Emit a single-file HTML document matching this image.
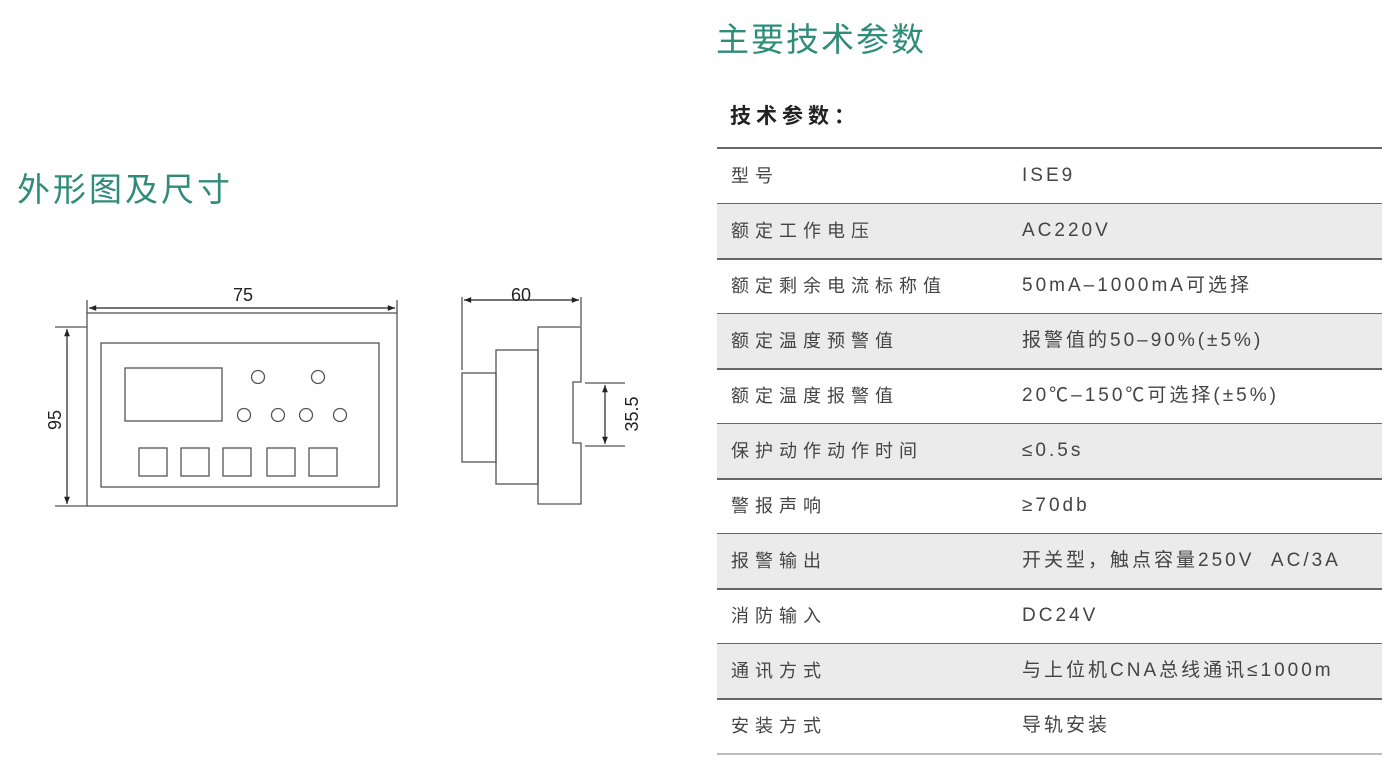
<!DOCTYPE html>
<html><head><meta charset="utf-8"><style>
body{margin:0;width:1400px;height:770px;background:#fff;position:relative;overflow:hidden;font-family:"Liberation Sans","Noto Sans CJK SC",sans-serif;color:#333}
.t{position:absolute;color:#2f8c78;font-size:33px;letter-spacing:2px;white-space:nowrap}
.row{position:absolute;left:717px;width:665px;height:54px;border-bottom:2px solid #666}
.row.g{background:#ebebeb}
.row span{position:absolute;top:15px;height:24px;line-height:24px;font-size:18px;white-space:nowrap;color:#444}
.l{left:14px;letter-spacing:6px}
.v{left:305px;letter-spacing:3px;font-size:19px!important}
</style></head><body>
<div class="t" style="left:716px;top:13px">主要技术参数</div>
<div style="position:absolute;left:730px;top:100px;font-size:21px;font-weight:bold;letter-spacing:5px;color:#222">技术参数：</div>
<div class="t" style="left:17px;top:163px;letter-spacing:3px">外形图及尺寸</div>
<div style="position:absolute;left:717px;top:147px;width:665px;border-top:2px solid #666"></div>
<div class="row" style="top:149px"><span class="l">型号</span><span class="v">ISE9</span></div>
<div class="row g" style="top:204px"><span class="l">额定工作电压</span><span class="v">AC220V</span></div>
<div class="row" style="top:259px"><span class="l">额定剩余电流标称值</span><span class="v">50mA–1000mA可选择</span></div>
<div class="row g" style="top:314px"><span class="l">额定温度预警值</span><span class="v">报警值的50–90%(±5%)</span></div>
<div class="row" style="top:369px"><span class="l">额定温度报警值</span><span class="v">20℃–150℃可选择(±5%)</span></div>
<div class="row g" style="top:424px"><span class="l">保护动作动作时间</span><span class="v">≤0.5s</span></div>
<div class="row" style="top:479px"><span class="l">警报声响</span><span class="v">≥70db</span></div>
<div class="row g" style="top:534px"><span class="l">报警输出</span><span class="v">开关型，触点容量250V&nbsp;&nbsp;AC/3A</span></div>
<div class="row" style="top:589px"><span class="l">消防输入</span><span class="v">DC24V</span></div>
<div class="row g" style="top:644px"><span class="l">通讯方式</span><span class="v">与上位机CNA总线通讯≤1000m</span></div>
<div class="row" style="top:699px;border-bottom-color:#bbb"><span class="l">安装方式</span><span class="v">导轨安装</span></div>
<svg width="700" height="600" style="position:absolute;left:0;top:0" font-family="Liberation Sans,sans-serif">
<defs><marker id="a" viewBox="0 0 10 10" refX="10" refY="5" markerWidth="8" markerHeight="6" orient="auto-start-reverse"><path d="M0,1 L10,5 L0,9z" fill="#222"/></marker></defs>
<g fill="none" stroke="#555" stroke-width="1.3">
<rect x="87" y="313" width="310" height="193"/>
<rect x="101" y="343" width="278" height="144"/>
<rect x="125" y="368" width="97" height="53"/>
<circle cx="258" cy="377" r="6.5"/><circle cx="318" cy="377" r="6.5"/>
<circle cx="244" cy="415" r="6.5"/><circle cx="278" cy="415" r="6.5"/><circle cx="306" cy="415" r="6.5"/><circle cx="340" cy="415" r="6.5"/>
<rect x="139" y="448" width="28" height="28"/><rect x="181" y="448" width="28" height="28"/><rect x="223" y="448" width="28" height="28"/><rect x="267" y="448" width="28" height="28"/><rect x="309" y="448" width="28" height="28"/>
<path d="M87 300V313M397 300V313M55 327H87M55 506H87"/>
<rect x="462" y="373" width="34" height="89"/>
<rect x="496" y="350" width="42" height="134"/>
<path d="M538 327H581V382H573V443H581V504H538Z"/>
<path d="M462 297V370M581 297V326M585 383H625M585 446H625"/>
</g>
<g stroke="#222" stroke-width="1.2">
<line x1="89" y1="308" x2="395" y2="308" marker-start="url(#a)" marker-end="url(#a)"/>
<line x1="67" y1="329" x2="67" y2="504" marker-start="url(#a)" marker-end="url(#a)"/>
<line x1="464" y1="300" x2="579" y2="300" marker-start="url(#a)" marker-end="url(#a)"/>
<line x1="605" y1="385" x2="605" y2="444" marker-start="url(#a)" marker-end="url(#a)"/>
</g>
<g fill="#222" font-size="18">
<text x="243" y="301" text-anchor="middle">75</text>
<text x="521" y="301" text-anchor="middle">60</text>
<text transform="translate(61,420) rotate(-90)" text-anchor="middle">95</text>
<text transform="translate(638,414) rotate(-90)" text-anchor="middle">35.5</text>
</g>
</svg>
</body></html>
